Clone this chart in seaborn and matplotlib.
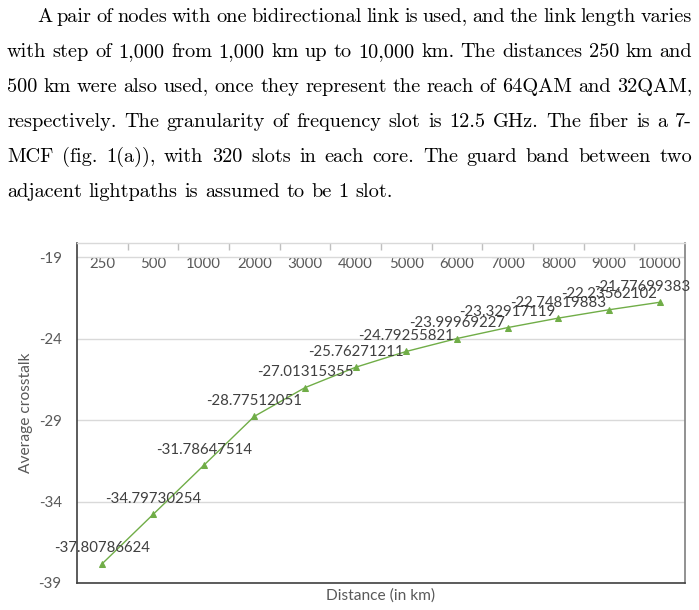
import numpy as np
import pandas as pd
import matplotlib
matplotlib.use("Agg")
import matplotlib.pyplot as plt
import seaborn as sns

# chart data
distances = ["250", "500", "1000", "2000", "3000", "4000", "5000",
             "6000", "7000", "8000", "9000", "10000"]
crosstalk = [-37.80786624, -34.79730254, -31.78647514, -28.77512051,
             -27.01315355, -25.76271211, -24.79255821, -23.99969227,
             -23.32917119, -22.74819883, -22.23562102, -21.77699383]
y_ticks = [-39, -34, -29, -24, -19]

# text above the chart
paragraph = [
    "A pair of nodes with one bidirectional link is used, and the link length varies",
    "with step of 1,000 from 1,000 km up to 10,000 km.  The distances 250 km and",
    "500 km were also used, once they represent the reach of 64QAM and 32QAM,",
    "respectively.  The granularity of frequency slot is 12.5 GHz.  The fiber is a 7-",
    "MCF (fig.  1(a)), with 320 slots in each core.  The guard band between two",
    "adjacent lightpaths is assumed to be 1 slot.",
]

W, H = 699, 610

sns.set_theme(style="white")
plt.rcParams['font.family'] = ['Lato', 'DejaVu Sans']
plt.rcParams['axes.unicode_minus'] = False

fig = plt.figure(figsize=(W / 100, H / 100), dpi=100)
ax = fig.add_axes([77 / W, 1 - 583 / H, 608 / W, 340 / H])

df = pd.DataFrame({"distance": distances, "crosstalk": crosstalk})
sns.pointplot(data=df, x="distance", y="crosstalk", order=distances,
              color="#70AD47", markers="^", linewidth=1, markersize=5, ax=ax)

for i, v in enumerate(crosstalk):
    last = i == len(crosstalk) - 1
    # Excel pushes the last label left to keep it inside the chart
    ax.annotate(f"{v:.8f}", (i, v), xytext=(22 if last else 0, 6),
                textcoords="offset points", ha="right" if last else "center",
                va="bottom", fontsize=10.8, color="#404040")

ax.set_xlim(-0.5, len(distances) - 0.5)
ax.set_ylim(-39, -18.14)
ax.set_yticks(y_ticks)
ax.yaxis.grid(True, color="#d9d9d9", lw=1)
ax.xaxis.grid(False)

# category labels sit inside, under the top edge
ax.xaxis.tick_top()
ax.set_xticks(np.arange(0.5, len(distances) - 1, 1), minor=True)
ax.tick_params(axis="x", which="major", length=0, pad=-20,
               labelsize=10.8, labelcolor="#595959")
ax.tick_params(axis="x", which="minor", top=True, bottom=False,
               direction="in", length=5, color="#bfbfbf", width=1)
ax.tick_params(axis="y", length=0, pad=11, labelsize=10.8, labelcolor="#595959")

ax.set_xlabel("Distance (in km)", fontsize=11.2, color="#595959")
ax.xaxis.set_label_position("bottom")
ax.xaxis.set_label_coords(0.5, -0.015)
ax.set_ylabel("Average crosstalk", fontsize=11.2, color="#595959")
ax.yaxis.set_label_coords(-0.072, 0.5)

for side, col in [("left", "#404040"), ("bottom", "#404040"),
                  ("right", "#7f7f7f"), ("top", "#d9d9d9")]:
    ax.spines[side].set_color(col)
    ax.spines[side].set_linewidth(1.2 if side != "top" else 1)

# justified paragraph
renderer = fig.canvas.get_renderer()
baselines = [22, 57, 92, 127, 162, 197]
right = 692
fsize = 14.6
for k, line in enumerate(paragraph):
    words = line.split()
    left = 37 if k == 0 else 7
    texts = [fig.text(0, 1 - baselines[k] / H, w, fontsize=fsize,
                      family="cmr10", va="baseline", color="black")
             for w in words]
    widths = [t.get_window_extent(renderer).width for t in texts]
    if k < len(paragraph) - 1:
        gap = (right - left - sum(widths)) / (len(words) - 1)
    else:
        gap = fsize * 100 / 72 * 0.333
    x = left
    for t, w in zip(texts, widths):
        t.set_x(x / W)
        x += w + gap

fig.savefig("out.png", dpi=100)
